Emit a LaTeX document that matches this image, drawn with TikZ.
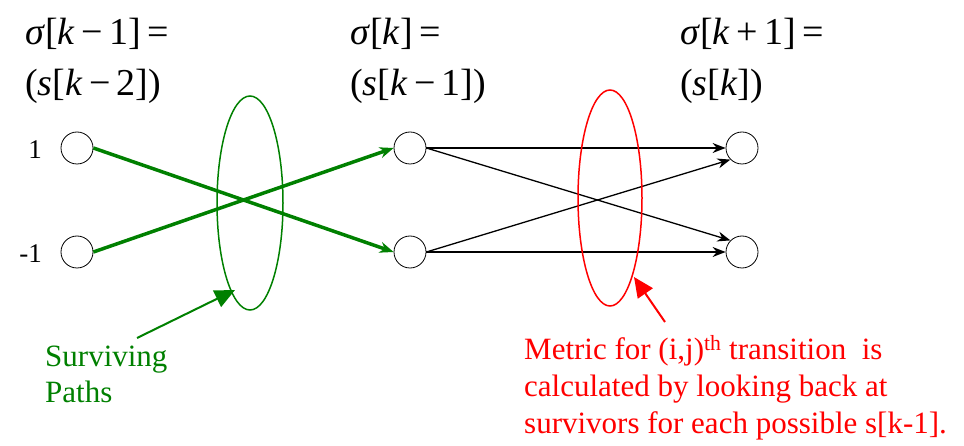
\documentclass[tikz,border=0pt]{standalone}
\usepackage{fontspec}
\setmainfont{Liberation Serif}
\usetikzlibrary{arrows.meta,positioning}

\definecolor{pathgreen}{RGB}{0,128,0}

\tikzset{
  state/.style={draw, thick, circle, minimum size=32pt, inner sep=0pt},
  toplabel/.style={anchor=base west, inner sep=0pt, font=\fontsize{38}{40}\selectfont},
  statevalue/.style={anchor=base east, inner sep=0pt, font=\fontsize{27}{30}\selectfont},
  survivor/.style={pathgreen, line width=3.5pt, -{Stealth[length=14pt,width=11pt]}},
  branch/.style={line width=1.3pt, -{Stealth[length=13pt,width=10pt]}},
  callout/.style={line width=2pt, -{Triangle[length=20pt,width=18pt]}}
}

\begin{document}
\begin{tikzpicture}[x=1pt, y=-1pt]
  \useasboundingbox (0,0) rectangle (964,446);

  % Column headings
  \node[toplabel] (h1a) at (25,45) {\textit{σ}[\textit{k}\,−\,1]\,=};
  \node[toplabel] (h1b) at (25,96) {(\textit{s}[\textit{k}\,−\,2])};
  \node[toplabel] (h2a) at (350,45) {\textit{σ}[\textit{k}]\,=};
  \node[toplabel] (h2b) at (350,96) {(\textit{s}[\textit{k}\,−\,1])};
  \node[toplabel] (h3a) at (680,45) {\textit{σ}[\textit{k}\,+\,1]\,=};
  \node[toplabel] (h3b) at (680,96) {(\textit{s}[\textit{k}])};

  % States
  \node[state] (a1) at (77,148) {};
  \node[state] (a2) at (77,252) {};
  \node[state] (b1) at (410,148) {};
  \node[state] (b2) at (410,252) {};
  \node[state] (c1) at (742,148) {};
  \node[state] (c2) at (742,252) {};

  % State values
  \node[statevalue] (v1) at (42,159) {1};
  \node[statevalue] (v2) at (42,263) {-1};

  % Surviving paths
  \draw[survivor] (a1.east) -- (b2.west);
  \draw[survivor] (a2.east) -- (b1.west);

  % Transitions k -> k+1
  \draw[branch] (b1.east) -- (c1.west);
  \draw[branch] (b1.east) -- (c2.north west);
  \draw[branch] (b2.east) -- (c1.south west);
  \draw[branch] (b2.east) -- (c2.west);

  % Ellipses
  \draw[pathgreen, line width=1.5pt] (250,203) ellipse (33 and 107);
  \draw[red, line width=1.5pt] (610,198) ellipse (32 and 108);

  % Annotations
  \node[pathgreen, anchor=north west, align=left, inner sep=0pt,
        font=\fontsize{31}{36}\selectfont] (surv) at (45,346) {Surviving\\Paths};
  \coordinate (gtip) at (235,290);
  \draw[pathgreen, callout] (137,338) -- (gtip);

  \node[red, anchor=north west, align=left, inner sep=0pt,
        font=\fontsize{31}{37}\selectfont] (metric) at (524,335)
        {Metric for (i,j)\textsuperscript{th} transition\ \ is\\
         calculated by looking back at\\
         survivors for each possible s[k-1].};
  \coordinate (rtip) at (634,277);
  \draw[red, callout] (665,322) -- (rtip);
\end{tikzpicture}
\end{document}
